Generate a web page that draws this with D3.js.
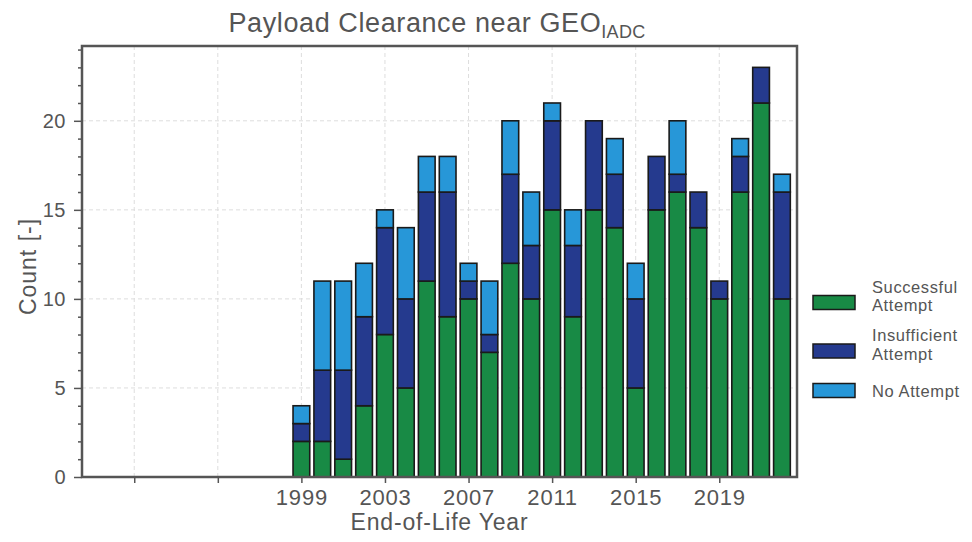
<!DOCTYPE html>
<html>
<head>
<meta charset="utf-8">
<script src="https://cdn.jsdelivr.net/npm/d3@7"></script>
<style>
  body { margin: 0; background: #fff; }
  svg { font-family: "Liberation Sans", Arial, sans-serif; }
</style>
</head>
<body>
<svg id="chart" width="972" height="542"></svg>
<script>
// data
const years = [1999, 2000, 2001, 2002, 2003, 2004, 2005, 2006, 2007, 2008, 2009, 2010,
               2011, 2012, 2013, 2014, 2015, 2016, 2017, 2018, 2019, 2020, 2021, 2022];
const successful   = [2, 2, 1, 4, 8, 5, 11, 9, 10, 7, 12, 10, 15, 9, 15, 14, 5, 15, 16, 14, 10, 16, 21, 10];
const insufficient = [1, 4, 5, 5, 6, 5, 5, 7, 1, 1, 5, 3, 5, 4, 5, 3, 5, 3, 1, 2, 1, 2, 2, 6];
const noAttempt    = [1, 5, 5, 3, 1, 4, 2, 2, 1, 3, 3, 3, 1, 2, 0, 2, 2, 0, 3, 0, 0, 1, 0, 1];
const seriesNames = ["Successful Attempt", "Insufficient Attempt", "No Attempt"];
const legendLines = [["Successful", "Attempt"], ["Insufficient", "Attempt"], ["No Attempt"]];
const colors = ["#188a45", "#253a8e", "#2797d8"];
const xTicks = [1991, 1995, 1999, 2003, 2007, 2011, 2015, 2019];
const yTicks = [0, 5, 10, 15, 20];

const svg = d3.select("svg#chart");
const margin = { top: 46, right: 175, bottom: 65, left: 82 };
const width = +svg.attr("width");
const height = +svg.attr("height");
const chartWidth = width - margin.left - margin.right;
const chartHeight = height - margin.top - margin.bottom;
const textColor = "#555";

const x = d3.scaleLinear().domain([1988.5, 2022.72]).range([0, chartWidth]);
const y = d3.scaleLinear().domain([0, 24.2]).range([chartHeight, 0]);

const g = svg.append("g").attr("transform", `translate(${margin.left},${margin.top})`);

// gridlines
g.append("g").selectAll("line").data(xTicks).join("line")
    .attr("x1", d => x(d)).attr("x2", d => x(d))
    .attr("y1", 0).attr("y2", chartHeight)
    .attr("stroke", "#ddd").attr("stroke-dasharray", "4,3");
g.append("g").selectAll("line").data(yTicks.slice(1)).join("line")
    .attr("x1", 0).attr("x2", chartWidth)
    .attr("y1", d => y(d)).attr("y2", d => y(d))
    .attr("stroke", "#ddd").attr("stroke-dasharray", "4,3");

// stacked bars
const table = years.map((yr, i) => ({
    year: yr, s0: successful[i], s1: insufficient[i], s2: noAttempt[i]
}));
const stack = d3.stack().keys(["s0", "s1", "s2"])(table);
const barW = x(1999.4) - x(1998.6);

g.append("g").selectAll("g").data(stack).join("g")
    .attr("fill", (d, i) => colors[i])
    .selectAll("rect").data(d => d.filter(p => p[1] > p[0])).join("rect")
    .attr("x", d => x(d.data.year) - barW / 2)
    .attr("width", barW)
    .attr("y", d => y(d[1]))
    .attr("height", d => y(d[0]) - y(d[1]))
    .attr("stroke", "#1a1a1a")
    .attr("stroke-width", 1.6);

// axes
const xAxis = d3.axisBottom(x).tickValues(xTicks)
    .tickFormat(d => d >= 1999 ? d : "").tickSize(6).tickPadding(6);
const xg = g.append("g").attr("transform", `translate(0,${chartHeight})`).call(xAxis);
const yAxis = d3.axisLeft(y).tickValues(yTicks).tickSize(8).tickPadding(8);
const yg = g.append("g").call(yAxis);
const yMinor = d3.axisLeft(y).tickValues(d3.range(0, 25).filter(v => v % 5 !== 0))
    .tickSize(4).tickFormat("");
const ymg = g.append("g").call(yMinor);

[xg, yg, ymg].forEach(a => {
    a.select(".domain").remove();
    a.selectAll("line").attr("stroke", textColor).attr("stroke-width", 1.5);
    a.selectAll("text").attr("fill", textColor);
});
xg.selectAll("text").style("font-size", "22px").style("letter-spacing", "0.8px");
yg.selectAll("text").style("font-size", "20px").style("letter-spacing", "0.5px");

// frame
g.append("rect").attr("x", 0).attr("y", 0).attr("width", chartWidth).attr("height", chartHeight)
    .attr("fill", "none").attr("stroke", textColor).attr("stroke-width", 2.5);

// title
const title = svg.append("text")
    .attr("x", 437).attr("y", 32)
    .attr("text-anchor", "middle").attr("fill", textColor)
    .style("font-size", "27px").style("letter-spacing", "0.6px");
title.append("tspan").text("Payload Clearance near GEO");
title.append("tspan").attr("dy", 6).style("font-size", "18px").style("letter-spacing", "0.3px").text("IADC");

// axis labels
svg.append("text")
    .attr("x", margin.left + chartWidth / 2).attr("y", 530)
    .attr("text-anchor", "middle").attr("fill", textColor)
    .style("font-size", "23px").style("letter-spacing", "0.8px").text("End-of-Life Year");
svg.append("text")
    .attr("transform", `translate(36,${margin.top + chartHeight / 2 + 5}) rotate(-90)`)
    .attr("text-anchor", "middle").attr("fill", textColor)
    .style("font-size", "23px").style("letter-spacing", "1px").text("Count [-]");

// legend
const legendY = [302.5, 351, 390.5];
const legend = svg.append("g").attr("transform", "translate(813,0)");
seriesNames.forEach((name, i) => {
    legend.append("rect")
        .attr("x", 0).attr("y", legendY[i] - 7).attr("width", 42).attr("height", 14)
        .attr("fill", colors[i]).attr("stroke", "#1a1a1a").attr("stroke-width", 1.5);
    const lines = legendLines[i];
    const t = legend.append("text").attr("fill", textColor)
        .style("font-size", "16.5px").style("letter-spacing", "0.6px");
    lines.forEach((ln, j) => {
        t.append("tspan").attr("x", 59)
            .attr("y", lines.length > 1 ? legendY[i] - 10 + j * 18.5 : legendY[i] + 6.5)
            .text(ln);
    });
});
</script>
</body>
</html>
